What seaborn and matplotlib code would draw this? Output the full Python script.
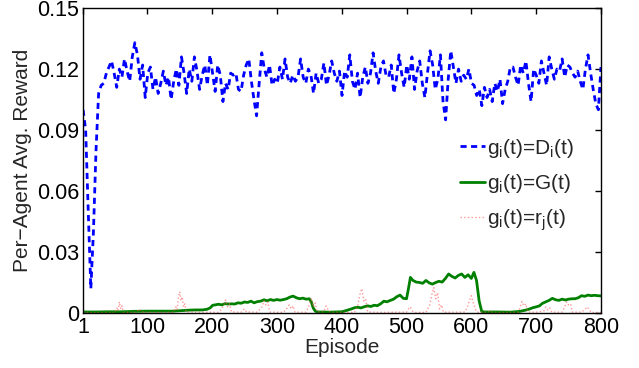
import numpy as np
import pandas as pd
import matplotlib
matplotlib.use("Agg")
import matplotlib.pyplot as plt
import seaborn as sns

# ---- data ----
blue_vals = [100, 90, 50, 12, 40, 80, 108, 112, 113, 118, 121, 124, 118, 111, 120, 116, 125, 119, 114, 126,
             133, 127, 115, 122, 106, 118, 121, 110, 116, 108, 113, 119, 112, 116, 105, 114, 120, 112, 126, 118,
             108, 120, 114, 126, 119, 110, 117, 122, 112, 127, 118, 109, 122, 117, 104, 113, 110, 118, 117, 118,
             110, 109, 117, 122, 125, 114, 105, 97, 113, 128, 120, 116, 122, 112, 115, 113, 121, 115, 125, 116,
             113, 117, 114, 116, 125, 116, 113, 120, 117, 108, 118, 113, 115, 123, 112, 117, 124, 118, 114, 119,
             107, 119, 116, 127, 114, 110, 118, 106, 116, 121, 113, 118, 128, 119, 113, 121, 124, 117, 116, 122,
             108, 115, 127, 118, 111, 122, 115, 126, 110, 119, 124, 113, 106, 118, 129, 122, 110, 115, 127, 104,
             95, 115, 129, 121, 113, 120, 114, 117, 115, 120, 113, 112, 107, 110, 102, 111, 106, 110, 104, 113,
             109, 115, 103, 110, 114, 121, 121, 116, 112, 122, 118, 124, 113, 104, 120, 117, 113, 124, 118, 112,
             126, 120, 115, 120, 119, 125, 116, 122, 121, 118, 116, 119, 114, 110, 120, 127, 118, 110, 103, 100,
             121]

green_ep = [1, 20, 40, 60, 80, 100, 120, 140, 155, 165, 175, 185, 192, 197, 201, 205, 210, 215, 220, 225,
            230, 235, 240, 245, 250, 255, 260, 265, 270, 275, 280, 285, 290, 295, 300, 305, 310, 315, 320, 325,
            330, 335, 340, 345, 350, 353, 356, 359, 362, 370, 380, 390, 400, 405, 410, 415, 420, 425, 430, 435,
            440, 445, 450, 455, 460, 465, 470, 475, 480, 485, 490, 495, 500, 503, 506, 510, 515, 520, 525, 530,
            535, 540, 545, 550, 555, 560, 565, 570, 575, 580, 585, 590, 595, 600, 604, 608, 612, 616, 620, 640,
            660, 675, 685, 690, 695, 700, 705, 710, 715, 720, 725, 730, 735, 740, 745, 750, 755, 760, 765, 770,
            775, 780, 785, 790, 795, 800]
green_vals = [0.5, 0.5, 0.6, 0.6, 0.8, 0.9, 0.9, 0.9, 1.2, 1.4, 1.5, 1.5, 1.8, 2.5, 3.8, 4.0, 4.3, 4.0, 4.6, 4.4,
              4.5, 4.4, 5.0, 4.8, 5.4, 5.2, 5.8, 5.0, 5.6, 5.8, 6.5, 6.0, 6.6, 6.2, 6.6, 6.3, 6.6, 7.0, 7.8, 8.3,
              7.5, 7.0, 7.3, 6.8, 7.0, 5.5, 2.5, 1.0, 0.5, 0.5, 0.4, 0.5, 0.6, 1.0, 1.5, 2.0, 2.6, 2.8, 2.5, 3.1,
              3.5, 3.2, 3.8, 3.6, 4.5, 5.8, 5.5, 6.2, 6.8, 8.0, 8.8, 7.2, 7.0, 12.0, 17.5, 16.0, 15.2, 15.0, 14.6, 16.0,
              14.8, 14.2, 15.0, 15.6, 15.2, 17.0, 19.2, 18.0, 17.2, 18.5, 19.2, 17.5, 18.8, 17.0, 20.0, 16.0, 6.0, 0.8, 0.5, 0.5,
              0.4, 0.8, 1.5, 2.0, 2.6, 3.0, 3.5, 4.8, 5.5, 6.2, 7.2, 6.5, 6.2, 6.8, 6.4, 6.8, 7.0, 7.0, 7.5, 8.5,
              8.2, 8.8, 8.5, 8.7, 8.5, 8.4]

red_ep = [1, 20, 40, 50, 53, 55, 57, 59, 61, 63, 80, 85, 88, 91, 100, 120, 140, 144, 146, 148,
          150, 152, 154, 156, 158, 160, 180, 200, 210, 215, 218, 221, 224, 227, 230, 245, 250, 253, 270, 277,
          280, 283, 286, 289, 300, 310, 316, 319, 322, 325, 328, 345, 350, 353, 356, 359, 362, 372, 376, 379,
          382, 400, 420, 425, 428, 431, 434, 437, 440, 460, 480, 500, 503, 506, 509, 512, 530, 536, 539, 542,
          545, 548, 551, 554, 557, 575, 590, 594, 597, 600, 603, 606, 609, 625, 630, 633, 660, 672, 675, 678,
          681, 684, 687, 700, 712, 715, 718, 721, 724, 740, 744, 747, 750, 753, 756, 770, 776, 779, 782, 785,
          800]
red_vals = [0.3, 0.2, 0.3, 0.2, 2.5, 1.0, 5.5, 2.0, 3.5, 0.3, 0.3, 1.0, 2.0, 0.5, 0.3, 0.3, 0.3, 3.0, 1.5, 7.0,
            10.5, 6.0, 8.0, 3.0, 4.5, 0.5, 0.4, 0.4, 0.3, 2.0, 4.0, 6.4, 3.0, 4.5, 0.5, 0.4, 2.0, 0.5, 0.4, 3.0,
            6.0, 4.0, 5.5, 0.5, 0.4, 0.3, 2.5, 4.0, 2.0, 3.5, 0.4, 0.4, 4.0, 7.4, 3.0, 5.0, 0.5, 0.5, 3.5, 1.5,
            0.4, 0.3, 0.3, 4.0, 9.0, 12.0, 6.0, 7.0, 0.5, 0.3, 0.4, 0.4, 2.0, 3.0, 1.0, 0.3, 0.3, 4.0, 9.0, 12.5,
            7.0, 10.0, 2.0, 4.0, 0.4, 0.4, 0.5, 3.0, 6.0, 8.5, 5.0, 2.0, 0.4, 0.4, 1.0, 0.3, 0.3, 0.4, 2.5, 5.7,
            3.5, 4.5, 0.5, 0.4, 1.0, 3.0, 1.5, 2.5, 0.4, 0.4, 3.0, 5.5, 4.0, 4.5, 0.4, 0.4, 2.0, 3.0, 1.5, 0.3,
            0.3]

x_ticks = [1, 100, 200, 300, 400, 500, 600, 700, 800]
y_ticks = [0, 0.03, 0.06, 0.09, 0.12, 0.15]
y_tick_labels = ["0", "0.03", "0.06", "0.09", "0.12", "0.15"]
labels = [r"g$_\mathregular{i}$(t)=D$_\mathregular{i}$(t)",
          r"g$_\mathregular{i}$(t)=G(t)",
          r"g$_\mathregular{i}$(t)=r$_\mathregular{j}$(t)"]

# ---- style ----
sns.set_theme(style="white")
plt.rcParams["font.family"] = ["Liberation Sans", "DejaVu Sans"]
plt.rcParams["mathtext.fontset"] = "custom"
plt.rcParams["mathtext.rm"] = "Liberation Sans"
plt.rcParams["axes.unicode_minus"] = True

fig = plt.figure(figsize=(6.39, 3.68), dpi=100)
ax = fig.add_axes([0.130, 0.1495, 0.8105, 0.8285])

blue_ep = np.linspace(1, 800, len(blue_vals))
df_b = pd.DataFrame({"ep": blue_ep, "v": np.array(blue_vals) / 1000.0})
df_g = pd.DataFrame({"ep": green_ep, "v": np.array(green_vals) / 1000.0})
df_r = pd.DataFrame({"ep": red_ep, "v": np.array(red_vals) / 1000.0})

sns.lineplot(data=df_b, x="ep", y="v", ax=ax, color="#0000ff", lw=2.0,
             linestyle=(0, (2.2, 1.6)), label=labels[0], estimator=None)
sns.lineplot(data=df_g, x="ep", y="v", ax=ax, color="#008000", lw=2.0,
             label=labels[1], estimator=None)
sns.lineplot(data=df_r, x="ep", y="v", ax=ax, color="#ff5555", lw=1.0, alpha=0.6,
             linestyle=":", label=labels[2], estimator=None)

ax.set_xlim(1, 800)
ax.set_ylim(0, 0.15)
ax.set_xticks(x_ticks)
ax.set_xticklabels([str(t) for t in x_ticks])
ax.set_yticks(y_ticks)
ax.set_yticklabels(y_tick_labels)
ax.tick_params(direction="in", length=4, width=1, labelsize=15.5, colors="black",
               top=True, right=True, labeltop=False, labelright=False, pad=3)
for s in ax.spines.values():
    s.set_color("black")
    s.set_linewidth(1.0)
ax.set_xlabel("Episode", fontsize=15, labelpad=0)
ax.set_ylabel("Per\u2212Agent Avg. Reward", fontsize=15, labelpad=3)

leg = ax.legend(loc="center left", bbox_to_anchor=(0.70, 0.42), frameon=False,
                fontsize=15, handlelength=1.2, handletextpad=0.1, labelspacing=0.6,
                borderpad=0.2)

fig.savefig("out.png", dpi=100)
